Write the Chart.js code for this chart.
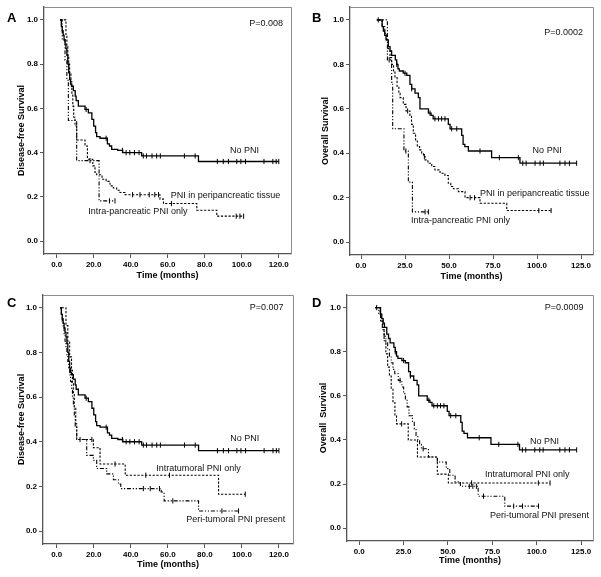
<!DOCTYPE html>
<html><head><meta charset="utf-8">
<script src="https://cdn.jsdelivr.net/npm/chart.js@4.4.0/dist/chart.umd.min.js"></script>
<style>
html,body{margin:0;padding:0;background:#fff;width:601px;height:577px;overflow:hidden}
canvas{position:absolute}
.lbl{position:absolute;font:bold 13px "Liberation Sans",Arial,sans-serif;line-height:13px;color:#000}
</style></head><body>
<canvas id="cA" style="left:0;top:0;width:300px;height:288px" width="300" height="288"></canvas>
<canvas id="cB" style="left:300px;top:0;width:301px;height:288px" width="301" height="288"></canvas>
<canvas id="cC" style="left:0;top:288px;width:300px;height:289px" width="300" height="289"></canvas>
<canvas id="cD" style="left:300px;top:288px;width:301px;height:289px" width="301" height="289"></canvas>
<div class="lbl" style="left:7px;top:11px">A</div>
<div class="lbl" style="left:312px;top:11px">B</div>
<div class="lbl" style="left:7px;top:296px">C</div>
<div class="lbl" style="left:312px;top:296px">D</div>
<script>
// ---------- tick labels ----------
const xTicksDFS = [0, 20, 40, 60, 80, 100, 120];
const xTicksOS = [0, 25, 50, 75, 100, 125];
const yTicks = [0, 0.2, 0.4, 0.6, 0.8, 1.0];

// ---------- series names ----------
const namesAB = ['No PNI', 'PNI in peripancreatic tissue', 'Intra-pancreatic PNI only'];
const namesCD = ['No PNI', 'Intratumoral PNI only', 'Peri-tumoral PNI present'];
const pValues = ['P=0.008', 'P=0.0002', 'P=0.007', 'P=0.0009'];

// ---------- Disease-free survival: No PNI (panels A, C) ----------
const noPniDfsT = [1.8,2.5,3,3.5,4,4.5,5,5.5,6,6.5,7,7.5,8,9,10,10.5,11.7,15.3,17.1,19,20,21,21.6,23.4,27.4,28.5,29.7,33,35.7,45.9,76.6,120];
const noPniDfsS = [1.0,0.97,0.95,0.93,0.91,0.89,0.87,0.84,0.80,0.76,0.73,0.71,0.70,0.68,0.655,0.635,0.61,0.595,0.58,0.55,0.52,0.49,0.472,0.465,0.44,0.43,0.415,0.41,0.40,0.385,0.36,0.36];
const noPniDfsC = [15.9,26.7,35.5,37.5,39.5,42,44.5,46.8,48.5,51.5,54,56,69,74.8,86.8,90,92.8,97.3,99.5,102,112,116.8,118.6,120];

// ---------- DFS: PNI in peripancreatic tissue (A) ----------
const periPancDfsT = [1.8,4.5,5,5.5,6,6.5,7,7.7,8.2,8.7,9.2,9.9,10.8,15.3,16.6,19.5,20.7,21.6,24.5,26.7,28.8,30.6,32.4,34.2,37,55.8,57.7,75.7,86.5,101];
const periPancDfsS = [1.0,1.0,0.93,0.88,0.84,0.80,0.76,0.72,0.66,0.61,0.56,0.52,0.457,0.43,0.37,0.34,0.31,0.30,0.28,0.27,0.25,0.24,0.23,0.22,0.21,0.19,0.17,0.14,0.113,0.113];
const periPancDfsC = [41,45,50,53,55,62,97,99,101];

// ---------- DFS: Intra-pancreatic PNI only (A) ----------
const intraPancDfsT = [1.8,3,4.5,5.5,6.3,10.8,22.9,31.5];
const intraPancDfsS = [1.0,0.909,0.818,0.727,0.545,0.364,0.182,0.182];
const intraPancDfsC = [18,28.5,31.5];

// ---------- DFS: Intratumoral PNI only (C) ----------
const intraTumDfsT = [2.7,5,6,7,8,8.5,9,9.5,10.3,10.8,19.8,23.4,37,87.4,102];
const intraTumDfsS = [1.0,0.92,0.85,0.78,0.72,0.66,0.62,0.55,0.48,0.41,0.373,0.30,0.25,0.165,0.165];
const intraTumDfsC = [19,31.5,48.1,60.9,101.8];

// ---------- DFS: Peri-tumoral PNI present (C) ----------
const periTumDfsT = [1.8,2.5,3,3.5,4,4.5,5,5.5,6,6.5,7,7.5,8,8.5,9,9.5,10,10.8,16.2,19.8,21.6,27,30.6,33.3,34.6,56.4,58,76.6,99];
const periTumDfsS = [1.0,0.97,0.94,0.91,0.88,0.85,0.82,0.79,0.76,0.73,0.70,0.67,0.64,0.60,0.56,0.52,0.47,0.41,0.339,0.317,0.28,0.256,0.23,0.21,0.19,0.175,0.135,0.09,0.09];
const periTumDfsC = [12.6,46.8,50.5,55.5,62.7,89.2,98.2];

// ---------- Overall survival: No PNI (panels B, D) ----------
const noPniOsT = [8.9,11.7,12,12.7,13.5,14.2,15.5,16.5,17.4,19.5,20.3,21,21.8,24,26,27.8,28.8,30.7,32.6,33.5,38.3,39.8,41,49.6,50.6,57.2,58,59,61,74.2,90.3,122.5];
const noPniOsS = [1.0,1.0,0.97,0.95,0.93,0.91,0.88,0.86,0.84,0.82,0.80,0.78,0.77,0.76,0.75,0.71,0.69,0.67,0.65,0.60,0.58,0.57,0.555,0.53,0.51,0.48,0.44,0.43,0.41,0.38,0.355,0.355];
const noPniOsC = [9.8,20.3,25,28.8,39.2,42,44,45.8,47.7,51.5,54.4,67.6,78.6,89.4,91.9,93.8,98.9,101.7,103.6,113,115.9,118.4,122.5];

// ---------- OS: PNI in peripancreatic tissue (B) ----------
const periPancOsT = [9.8,12,13.5,14.5,15.5,16.5,17.4,18.5,19.3,20.5,21.5,22.2,24,25.6,27.8,28.7,29.7,31,32,33.3,34.5,35.5,36.4,38,40.2,42,44.9,47.7,49.6,51,52.5,55.3,59.1,67.6,82.8,108.3];
const periPancOsS = [1.0,0.97,0.94,0.91,0.87,0.83,0.80,0.77,0.74,0.70,0.67,0.65,0.62,0.59,0.57,0.53,0.49,0.46,0.43,0.415,0.40,0.385,0.37,0.355,0.34,0.325,0.31,0.30,0.265,0.25,0.24,0.227,0.20,0.175,0.142,0.142];
const periPancOsC = [26.5,36,62,64.5,101,108];

// ---------- OS: Intra-pancreatic PNI only (B) ----------
const intraPancOsT = [9,15,17.4,18,24.4,26.9,29.2,38.3];
const intraPancOsS = [1.0,0.82,0.72,0.51,0.41,0.27,0.136,0.136];
const intraPancOsC = [16,25.5,36.4,38.3];

// ---------- OS: Intratumoral PNI only (D) ----------
const intraTumOsT = [9,11.7,12.5,13.3,14,15,16,17,18,19,20.1,21,27.6,32.8,44,50.2,107.5];
const intraTumOsS = [1.0,0.97,0.94,0.91,0.85,0.79,0.73,0.69,0.63,0.57,0.51,0.473,0.40,0.323,0.245,0.205,0.205];
const intraTumOsC = [23.9,63.3,100.9,107.5];

// ---------- OS: Peri-tumoral PNI present (D) ----------
const periTumOsT = [9,11,12,13,14,15,16,17,18,19,20,22,24,25,26,27,28,30,31,32,33,34,35,39,44,49,51,54,57,67,82,101];
const periTumOsS = [1.0,0.97,0.94,0.90,0.87,0.84,0.81,0.78,0.75,0.72,0.70,0.67,0.64,0.61,0.58,0.55,0.51,0.48,0.45,0.42,0.40,0.38,0.36,0.323,0.30,0.27,0.24,0.21,0.19,0.145,0.10,0.10];
const periTumOsC = [23,36,62,64,66,70,87,92,101];

// ---------- helpers ----------
const FONT = '"Liberation Sans", Arial, sans-serif';
const DASH = [2.2, 1.6];
const DASHDOT = [4, 1.8, 1.2, 1.8, 1.2, 1.8];

function stepSeries(times, surv, dash, width) {
  return {
    type: 'line',
    data: times.map((t, i) => ({x: t, y: surv[i]})),
    stepped: true, borderColor: '#000', borderWidth: width, borderDash: dash,
    pointRadius: 0, fill: false, tension: 0, order: 2
  };
}
function censorSeries(cTimes, times, surv) {
  const at = t => { let v = surv[0]; for (let i = 0; i < times.length; i++) if (times[i] <= t) v = surv[i]; return v; };
  return {
    type: 'line', showLine: false,
    data: cTimes.map(t => ({x: t, y: at(t)})),
    pointStyle: 'line', pointRotation: 90, pointRadius: 2.6,
    pointBorderColor: '#000', pointBorderWidth: 1, pointBackgroundColor: '#000', order: 1
  };
}

const frameText = {
  id: 'frameText',
  afterDraw(chart, args, opts) {
    const {ctx, chartArea: a, scales} = chart;
    ctx.save();
    ctx.strokeStyle = '#8c8c8c'; ctx.lineWidth = 1;
    ctx.beginPath();
    ctx.moveTo(a.left, Math.round(a.top) + 0.5);
    ctx.lineTo(Math.round(a.right) + 0.5, Math.round(a.top) + 0.5);
    ctx.lineTo(Math.round(a.right) + 0.5, a.bottom);
    ctx.stroke();
    ctx.fillStyle = '#111';
    ctx.font = '9px ' + FONT;
    ctx.textBaseline = 'middle';
    (opts.notes || []).forEach(n => {
      ctx.textAlign = n.align || 'left';
      ctx.fillText(n.text, scales.x.getPixelForValue(n.x), scales.y.getPixelForValue(n.y));
    });
    ctx.restore();
  }
};

function makeChart(id, cfg) {
  const ctx = document.getElementById(id);
  new Chart(ctx, {
    type: 'line',
    data: {datasets: cfg.datasets},
    options: {
      responsive: false, animation: false, devicePixelRatio: 1,
      layout: {padding: {left: 0, right: cfg.padR, top: cfg.padT, bottom: 0}},
      plugins: {legend: {display: false}, tooltip: {enabled: false}, frameText: {notes: cfg.notes}},
      scales: {
        x: {
          type: 'linear', min: cfg.xMin, max: cfg.xMax,
          afterBuildTicks: s => { s.ticks = cfg.xTicks.map(v => ({value: v})); },
          afterFit: s => { s.height = cfg.xH; },
          ticks: {callback: v => Number(v).toFixed(1), font: {family: FONT, size: 8, weight: 'bold'}, color: '#000', padding: 2, maxRotation: 0, autoSkip: false},
          grid: {display: true, drawOnChartArea: false, drawTicks: true, tickLength: 4, color: '#555', lineWidth: 1},
          border: {display: true, color: '#555', width: 1.3},
          title: {display: true, text: 'Time (months)', color: '#000', font: {family: FONT, size: 9, weight: 'bold'}, padding: {top: 0, bottom: cfg.xTitlePad}}
        },
        y: {
          type: 'linear', min: -0.058, max: 1.058,
          afterBuildTicks: s => { s.ticks = yTicks.map(v => ({value: v})); },
          afterFit: s => { s.width = cfg.yW; },
          ticks: {callback: v => Number(v).toFixed(1), font: {family: FONT, size: 8, weight: 'bold'}, color: '#000', padding: 2, autoSkip: false},
          grid: {display: true, drawOnChartArea: false, drawTicks: true, tickLength: 4, color: '#555', lineWidth: 1},
          border: {display: true, color: '#555', width: 1.3},
          title: {display: true, text: cfg.yTitle, color: '#000', font: {family: FONT, size: 9, weight: 'bold'}, padding: {top: cfg.yTitlePad, bottom: 0}}
        }
      }
    },
    plugins: [frameText]
  });
}

// ---------- Panel A ----------
makeChart('cA', {
  padR: 9, padT: 7, yW: 44, xH: 34, xTitlePad: 6.6, yTitlePad: 16.3,
  xMin: -6.86, xMax: 126.6, xTicks: xTicksDFS, yTitle: 'Disease-free Survival',
  datasets: [
    stepSeries(noPniDfsT, noPniDfsS, [], 1.3),
    stepSeries(periPancDfsT, periPancDfsS, DASH, 1.1),
    stepSeries(intraPancDfsT, intraPancDfsS, DASHDOT, 1.1),
    censorSeries(noPniDfsC, noPniDfsT, noPniDfsS),
    censorSeries(periPancDfsC, periPancDfsT, periPancDfsS),
    censorSeries(intraPancDfsC, intraPancDfsT, intraPancDfsS)
  ],
  notes: [
    {text: namesAB[0], x: 93.7, y: 0.41},
    {text: namesAB[1], x: 61.6, y: 0.205},
    {text: namesAB[2], x: 17.1, y: 0.136},
    {text: pValues[0], x: 122.3, y: 0.982, align: 'right'}
  ]
});

// ---------- Panel B ----------
makeChart('cB', {
  padR: 8, padT: 7, yW: 50, xH: 33, xTitlePad: 5.9, yTitlePad: 20.6,
  xMin: -6.25, xMax: 131.8, xTicks: xTicksOS, yTitle: 'Overall Survival',
  datasets: [
    stepSeries(noPniOsT, noPniOsS, [], 1.3),
    stepSeries(periPancOsT, periPancOsS, DASH, 1.1),
    stepSeries(intraPancOsT, intraPancOsS, DASHDOT, 1.1),
    censorSeries(noPniOsC, noPniOsT, noPniOsS),
    censorSeries(periPancOsC, periPancOsT, periPancOsS),
    censorSeries(intraPancOsC, intraPancOsT, intraPancOsS)
  ],
  notes: [
    {text: namesAB[0], x: 97.5, y: 0.414},
    {text: namesAB[1], x: 67.6, y: 0.22},
    {text: namesAB[2], x: 28.4, y: 0.0955},
    {text: pValues[1], x: 126.1, y: 0.944, align: 'right'}
  ]
});

// ---------- Panel C ----------
makeChart('cC', {
  padR: 7, padT: 5, yW: 43, xH: 33, xTitlePad: 6.6, yTitlePad: 16.3,
  xMin: -7.4, xMax: 127.6, xTicks: xTicksDFS, yTitle: 'Disease-free Survival',
  datasets: [
    stepSeries(noPniDfsT, noPniDfsS, [], 1.3),
    stepSeries(intraTumDfsT, intraTumDfsS, DASH, 1.1),
    stepSeries(periTumDfsT, periTumDfsS, DASHDOT, 1.1),
    censorSeries(noPniDfsC, noPniDfsT, noPniDfsS),
    censorSeries(intraTumDfsC, intraTumDfsT, intraTumDfsS),
    censorSeries(periTumDfsC, periTumDfsT, periTumDfsS)
  ],
  notes: [
    {text: namesCD[0], x: 93.7, y: 0.415},
    {text: namesCD[1], x: 53.7, y: 0.281},
    {text: namesCD[2], x: 69.9, y: 0.053},
    {text: pValues[2], x: 122.5, y: 1.0, align: 'right'}
  ]
});

// ---------- Panel D ----------
makeChart('cD', {
  padR: 8, padT: 5, yW: 47, xH: 36, xTitlePad: 10.6, yTitlePad: 18.6,
  xMin: -6.9, xMax: 131.7, xTicks: xTicksOS, yTitle: 'Overall  Survival',
  datasets: [
    stepSeries(noPniOsT, noPniOsS, [], 1.3),
    stepSeries(intraTumOsT, intraTumOsS, DASH, 1.1),
    stepSeries(periTumOsT, periTumOsS, DASHDOT, 1.1),
    censorSeries(noPniOsC, noPniOsT, noPniOsS),
    censorSeries(intraTumOsC, intraTumOsT, intraTumOsS),
    censorSeries(periTumOsC, periTumOsT, periTumOsS)
  ],
  notes: [
    {text: namesCD[0], x: 96.2, y: 0.392},
    {text: namesCD[1], x: 70.9, y: 0.242},
    {text: namesCD[2], x: 73.7, y: 0.056},
    {text: pValues[3], x: 126.3, y: 1.0, align: 'right'}
  ]
});
</script>
</body></html>
